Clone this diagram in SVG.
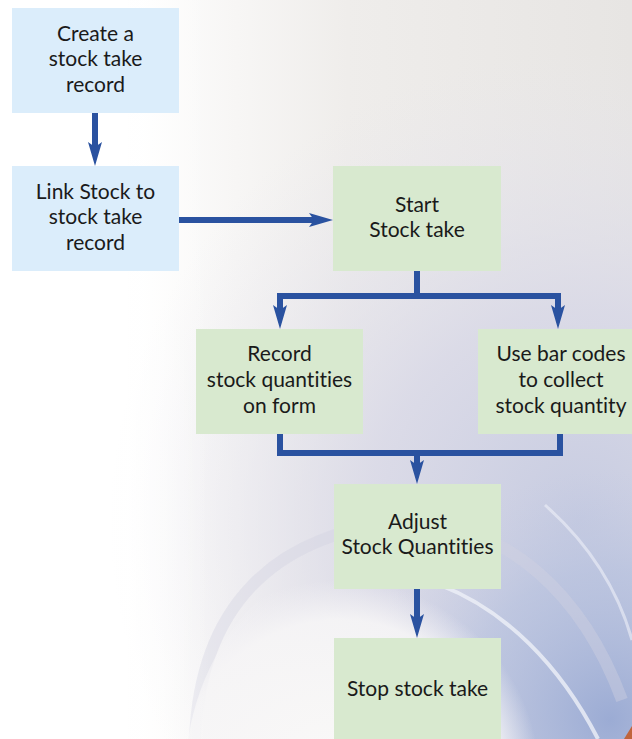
<svg xmlns="http://www.w3.org/2000/svg" width="632" height="739" viewBox="0 0 632 739">
<defs>
<linearGradient id="bgH" x1="0" y1="0" x2="1" y2="0">
<stop offset="0" stop-color="#ffffff"/>
<stop offset="0.2" stop-color="#ffffff"/>
<stop offset="0.55" stop-color="#efedeb"/>
<stop offset="1" stop-color="#e7e5e3"/>
</linearGradient>
<radialGradient id="lav" cx="580" cy="520" r="470" gradientUnits="userSpaceOnUse">
<stop offset="0" stop-color="#c6cbe1" stop-opacity="1"/>
<stop offset="0.45" stop-color="#d8d8e7" stop-opacity="0.85"/>
<stop offset="0.8" stop-color="#e3e2ec" stop-opacity="0.3"/>
<stop offset="1" stop-color="#e8e7ee" stop-opacity="0"/>
</radialGradient>
<radialGradient id="blue" cx="610" cy="720" r="250" gradientUnits="userSpaceOnUse">
<stop offset="0" stop-color="#98a9d3" stop-opacity="0.95"/>
<stop offset="0.6" stop-color="#b2bedd" stop-opacity="0.6"/>
<stop offset="1" stop-color="#c4cae2" stop-opacity="0"/>
</radialGradient>
<radialGradient id="inner" cx="340" cy="780" r="200" gradientUnits="userSpaceOnUse">
<stop offset="0" stop-color="#faf9f8" stop-opacity="1"/>
<stop offset="0.8" stop-color="#f6f5f6" stop-opacity="0.9"/>
<stop offset="1" stop-color="#f2f1f5" stop-opacity="0"/>
</radialGradient>
<linearGradient id="leftFade" x1="0" y1="0" x2="1" y2="0">
<stop offset="0" stop-color="#ffffff" stop-opacity="1"/>
<stop offset="0.6" stop-color="#ffffff" stop-opacity="0.7"/>
<stop offset="1" stop-color="#ffffff" stop-opacity="0"/>
</linearGradient>
<marker id="ah" viewBox="0 0 24 14" refX="10" refY="7" markerWidth="24" markerHeight="14" markerUnits="userSpaceOnUse" orient="auto">
<path d="M0,0 L24,7 L0,14 L5,7 Z" fill="#2a52a0"/>
</marker>
<style>
.blue{fill:#dbedfb}
.green{fill:#d8e9cf}
.t{font-family:Lato,"Open Sans","Liberation Sans",sans-serif;font-size:21px;fill:#1a1a1a;text-anchor:middle;font-variant-ligatures:none}
.c{fill:none;stroke:#2a52a0;stroke-width:6;stroke-linejoin:miter}
</style>
</defs>
<g id="background">
<rect x="0" y="0" width="632" height="739" fill="url(#bgH)"/>
<rect x="0" y="0" width="632" height="739" fill="url(#lav)"/>
<rect x="0" y="0" width="632" height="739" fill="url(#blue)"/>
<path d="M195,739 C200,610 270,535 400,522 C510,520 585,600 622,700" fill="none" stroke="#d3d1e2" stroke-width="12" opacity="0.4"/>
<ellipse cx="390" cy="780" rx="205" ry="235" fill="url(#inner)"/>
<path d="M440,585 C505,610 560,665 598,739" fill="none" stroke="#eef0f8" stroke-width="4" opacity="0.8"/>
<path d="M545,505 C590,545 618,590 632,640" fill="none" stroke="#eef0f8" stroke-width="3" opacity="0.6"/>
<path d="M624,739 L632,726 L632,739 Z" fill="#c0643c"/>
<rect x="0" y="0" width="210" height="739" fill="url(#leftFade)"/>
</g>
<g id="connectors">
<path class="c" d="M95,113 V152" marker-end="url(#ah)"/>
<path class="c" d="M179,220 H319" marker-end="url(#ah)"/>
<path class="c" d="M417,271 V296 M280,296 H558"/>
<path class="c" d="M280,293 V315" marker-end="url(#ah)"/>
<path class="c" d="M558,293 V315" marker-end="url(#ah)"/>
<path class="c" d="M280,434 V453 H560 V434"/>
<path class="c" d="M417,453 V470" marker-end="url(#ah)"/>
<path class="c" d="M417,589 V624" marker-end="url(#ah)"/>
</g>
<g id="n1">
<rect class="blue" x="12" y="8" width="167" height="105"/>
<text class="t" x="95.5" y="41">Create a</text>
<text class="t" x="95.5" y="66">stock take</text>
<text class="t" x="95.5" y="92">record</text>
</g>
<g id="n2">
<rect class="blue" x="12" y="166" width="167" height="105"/>
<text class="t" x="95.5" y="199">Link Stock to</text>
<text class="t" x="95.5" y="224">stock take</text>
<text class="t" x="95.5" y="250">record</text>
</g>
<g id="n3">
<rect class="green" x="333" y="166" width="168" height="105"/>
<text class="t" x="417" y="212">Start</text>
<text class="t" x="417" y="237">Stock take</text>
</g>
<g id="n4">
<rect class="green" x="196" y="329" width="167" height="105"/>
<text class="t" x="279.5" y="361">Record</text>
<text class="t" x="279.5" y="387">stock quantities</text>
<text class="t" x="279.5" y="413">on form</text>
</g>
<g id="n5">
<rect class="green" x="478" y="329" width="167" height="105"/>
<text class="t" x="561" y="361">Use bar codes</text>
<text class="t" x="561" y="387">to collect</text>
<text class="t" x="561" y="413">stock quantity</text>
</g>
<g id="n6">
<rect class="green" x="334" y="484" width="167" height="105"/>
<text class="t" x="417.5" y="529">Adjust</text>
<text class="t" x="417.5" y="554">Stock Quantities</text>
</g>
<g id="n7">
<rect class="green" x="334" y="638" width="167" height="105"/>
<text class="t" x="417.5" y="696">Stop stock take</text>
</g>
</svg>
